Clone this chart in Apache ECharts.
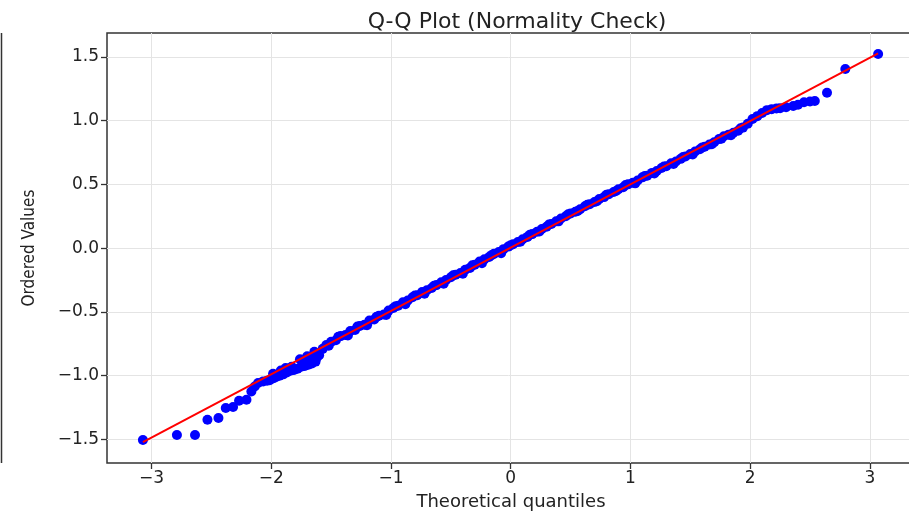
<!DOCTYPE html>
<html>
<head>
<meta charset="utf-8">
<title>Q-Q Plot</title>
<script src="https://cdn.jsdelivr.net/npm/echarts@6/dist/echarts.min.js"></script>
<style>
  html, body { margin: 0; padding: 0; background: #fff; }
  #chart { width: 909px; height: 512px; }
</style>
</head>
<body>
<div id="chart"></div>
<script>
// theoretical quantiles (x) and ordered sample values (y)
const theoreticalQuantiles = [
  -3.072, -2.788, -2.637, -2.533, -2.441, -2.380, -2.319, -2.269, -2.207, -2.166,
  -2.138, -2.110, -2.068, -2.035, -2.013, -1.985,
  -1.960, -1.930, -1.900, -1.880, -1.870, -1.840, -1.810, -1.780, -1.760, -1.750,
  -1.720, -1.700, -1.690, -1.660, -1.640, -1.630, -1.600, -1.570, -1.540, -1.500,
  -1.460, -1.420, -1.380, -1.340, -1.300, -1.260, -1.220, -1.180, -1.140, -1.100,
  -1.060, -1.020, -0.980,
  -0.940, -0.900, -0.860, -0.820, -0.780, -0.740, -0.700, -0.660, -0.620, -0.580,
  -0.540, -0.500, -0.460, -0.420, -0.380, -0.340, -0.300, -0.260, -0.220, -0.180,
  -0.140, -0.100, -0.060, -0.020,
  0.020, 0.060, 0.100, 0.140, 0.180, 0.220, 0.260, 0.300, 0.340, 0.380,
  0.420, 0.460, 0.500, 0.540, 0.580, 0.620, 0.660, 0.700, 0.740, 0.780,
  0.820, 0.860, 0.900, 0.940, 0.980,
  1.020, 1.060, 1.100, 1.140, 1.180, 1.220, 1.260, 1.300, 1.340, 1.380,
  1.420, 1.460, 1.500, 1.540, 1.580, 1.620, 1.660, 1.700, 1.740, 1.780,
  1.820, 1.860, 1.900, 1.940, 1.980, 2.020, 2.060, 2.100, 2.140, 2.180,
  2.220, 2.250, 2.300, 2.360, 2.400, 2.450, 2.500, 2.540, 2.642, 2.795, 3.069,
  // second row of the dense band
  -1.980, -1.920, -1.830, -1.730, -1.670, -1.620,
  -1.520, -1.440, -1.360, -1.280, -1.200, -1.120, -1.040, -0.960, -0.880, -0.800,
  -0.720, -0.640, -0.560, -0.480, -0.400, -0.320, -0.240, -0.160, -0.080, 0.000,
  0.080, 0.160, 0.240, 0.320, 0.400, 0.480, 0.560, 0.640, 0.720, 0.800,
  0.880, 0.960, 1.040, 1.120, 1.200, 1.280, 1.360, 1.440, 1.520, 1.600,
  1.680, 1.760, 1.840, 1.920
];
const orderedValues = [
  -1.505, -1.466, -1.466, -1.346, -1.332, -1.254, -1.246, -1.197, -1.189, -1.124,
  -1.085, -1.058, -1.045, -1.040, -1.036, -0.985,
  -1.010, -1.000, -0.990, -0.940, -0.975, -0.962, -0.955, -0.945, -0.872, -0.930,
  -0.925, -0.848, -0.915, -0.905, -0.812, -0.890, -0.840, -0.790, -0.760, -0.735,
  -0.722, -0.690, -0.682, -0.650, -0.642, -0.610, -0.600, -0.568, -0.560, -0.530,
  -0.520, -0.490, -0.470,
  -0.452, -0.425, -0.410, -0.385, -0.370, -0.345, -0.330, -0.312, -0.290, -0.268,
  -0.250, -0.228, -0.208, -0.195, -0.170, -0.155, -0.130, -0.105, -0.088, -0.070,
  -0.045, -0.030, -0.008, 0.012,
  0.030, 0.048, 0.070, 0.088, 0.110, 0.128, 0.150, 0.168, 0.190, 0.210,
  0.232, 0.250, 0.272, 0.285, 0.305, 0.328, 0.345, 0.362, 0.385, 0.400,
  0.422, 0.440, 0.462, 0.478, 0.500,
  0.512, 0.530, 0.555, 0.568, 0.590, 0.605, 0.628, 0.642, 0.665, 0.680,
  0.700, 0.718, 0.738, 0.758, 0.775, 0.795, 0.812, 0.830, 0.855, 0.878,
  0.890, 0.905, 0.920, 0.945, 0.975, 1.012, 1.035, 1.060, 1.082, 1.090,
  1.095, 1.097, 1.105, 1.115, 1.125, 1.144, 1.150, 1.154, 1.219, 1.405, 1.523,
  // second row of the dense band
  -1.020, -0.960, -0.930, -0.890, -0.870, -0.860,
  -0.765, -0.695, -0.685, -0.615, -0.605, -0.538, -0.525, -0.455, -0.440, -0.372,
  -0.358, -0.295, -0.280, -0.212, -0.200, -0.135, -0.118, -0.055, -0.040, 0.022,
  0.050, 0.105, 0.130, 0.185, 0.210, 0.265, 0.292, 0.340, 0.368, 0.418,
  0.448, 0.495, 0.508, 0.565, 0.585, 0.640, 0.660, 0.715, 0.735, 0.790,
  0.815, 0.858, 0.885, 0.940
];

// fitted reference line end points
const fitLineX = [-3.072, 3.069];
const fitLineY = [-1.522, 1.528];

// tick labels
const xTicks = [-3, -2, -1, 0, 1, 2, 3];
const yTicks = [-1.5, -1.0, -0.5, 0.0, 0.5, 1.0, 1.5];

const minus = s => s.replace('-', '\u2212');
const textColor = '#222';
const spineColor = '#333';

const chart = echarts.init(document.getElementById('chart'));

const option = {
  animation: false,
  backgroundColor: '#fff',
  title: {
    text: 'Q-Q Plot (Normality Check)',
    left: 512,
    top: 6,
    textAlign: 'center',
    textStyle: { fontFamily: 'DejaVu Sans', fontSize: 22, fontWeight: 'normal', color: textColor }
  },
  grid: {
    left: 107,
    top: 33,
    width: 808,
    height: 430,
    outerBoundsMode: 'none',
    containLabel: false,
    show: true,
    borderColor: spineColor,
    borderWidth: 1.5,
    backgroundColor: '#fff'
  },
  xAxis: {
    type: 'value',
    min: -3.372,
    max: 3.377,
    splitNumber: 7,
    name: 'Theoretical quantiles',
    nameLocation: 'middle',
    nameGap: 30,
    nameTextStyle: { fontFamily: 'DejaVu Sans', fontSize: 18, color: textColor },
    axisLine: { show: false, onZero: false },
    axisTick: { show: true, length: 6, customValues: xTicks, lineStyle: { color: spineColor, width: 1.3 } },
    axisLabel: {
      customValues: xTicks,
      margin: 7,
      fontFamily: 'DejaVu Sans',
      fontSize: 17,
      color: textColor,
      formatter: v => minus(String(Math.round(v)))
    },
    splitLine: { show: true, lineStyle: { color: '#e4e4e4', width: 1 } }
  },
  yAxis: {
    type: 'value',
    min: -1.685,
    max: 1.687,
    splitNumber: 7,
    name: 'Ordered Values',
    nameLocation: 'middle',
    nameGap: 69,
    nameTextStyle: { fontFamily: 'DejaVu Sans Condensed', fontSize: 17, color: textColor },
    axisLine: { show: false, onZero: false },
    axisTick: { show: true, length: 6, customValues: yTicks, lineStyle: { color: spineColor, width: 1.3 } },
    axisLabel: {
      customValues: yTicks,
      margin: 8,
      fontFamily: 'DejaVu Sans',
      fontSize: 17,
      color: textColor,
      formatter: v => minus(v.toFixed(1))
    },
    splitLine: { show: true, lineStyle: { color: '#e4e4e4', width: 1 } }
  },
  series: [
    {
      name: 'Ordered Values',
      type: 'scatter',
      symbol: 'circle',
      symbolSize: 10,
      itemStyle: { color: '#0000ff', opacity: 1 },
      data: theoreticalQuantiles.map((x, i) => [x, orderedValues[i]]),
      z: 2
    },
    {
      name: 'Fit',
      type: 'line',
      showSymbol: false,
      lineStyle: { color: '#ff0000', width: 2 },
      data: fitLineX.map((x, i) => [x, fitLineY[i]]),
      z: 3
    }
  ],
  graphic: [
    {
      type: 'line',
      shape: { x1: 1.5, y1: 33, x2: 1.5, y2: 463 },
      style: { stroke: spineColor, lineWidth: 1.5 }
    }
  ]
};

chart.setOption(option);
window.addEventListener('resize', () => chart.resize());
</script>
</body>
</html>
